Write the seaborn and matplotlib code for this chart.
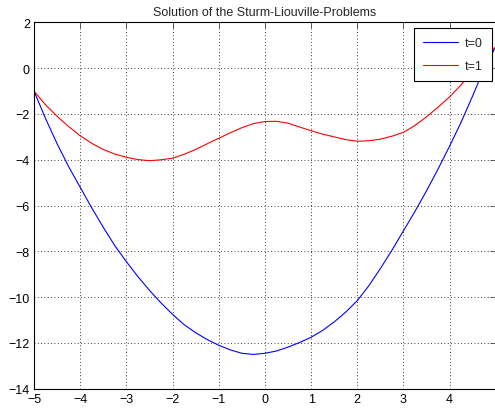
import numpy as np
import pandas as pd
import matplotlib
matplotlib.use("Agg")
import matplotlib.pyplot as plt
import seaborn as sns

# values
x_vals = [-5.0, -4.75, -4.5, -4.25, -4.0, -3.75, -3.5, -3.25, -3.0, -2.75, -2.5,
          -2.25, -2.0, -1.75, -1.5, -1.25, -1.0, -0.75, -0.5, -0.25, 0.0,
          0.25, 0.5, 0.75, 1.0, 1.25, 1.5, 1.75, 2.0, 2.25, 2.5,
          2.75, 3.0, 3.25, 3.5, 3.75, 4.0, 4.25, 4.5, 4.75, 5.0]
u_t0 = [-1.0, -2.2, -3.3, -4.3, -5.2, -6.1, -6.95, -7.75, -8.45, -9.1, -9.7,
        -10.25, -10.75, -11.2, -11.55, -11.85, -12.1, -12.3, -12.45, -12.5, -12.45,
        -12.35, -12.18, -11.98, -11.75, -11.45, -11.08, -10.65, -10.15, -9.5, -8.75,
        -7.95, -7.1, -6.25, -5.35, -4.4, -3.4, -2.35, -1.2, 0.0, 0.95]
u_t1 = [-1.0, -1.6, -2.1, -2.55, -2.95, -3.28, -3.55, -3.75, -3.89, -3.99, -4.04,
        -4.0, -3.93, -3.76, -3.55, -3.3, -3.06, -2.82, -2.6, -2.42, -2.33,
        -2.32, -2.4, -2.57, -2.73, -2.88, -3.0, -3.12, -3.19, -3.17, -3.1,
        -2.97, -2.8, -2.5, -2.12, -1.7, -1.25, -0.72, -0.15, 0.42, 0.95]
series_names = ["t=0", "t=1"]

df = pd.concat([
    pd.DataFrame({"x": x_vals, "u": u_t0, "t": series_names[0]}),
    pd.DataFrame({"x": x_vals, "u": u_t1, "t": series_names[1]}),
])

sns.set_style("white")
plt.rcParams["font.family"] = ["Liberation Sans", "DejaVu Sans"]

fig = plt.figure(figsize=(4.95, 4.14), dpi=100)
ax = fig.add_axes([0.0687, 0.0585, 0.933, 0.885])

sns.lineplot(data=df, x="x", y="u", hue="t", palette=["#0000ff", "#ff0000"],
             linewidth=0.8, ax=ax, sort=False)

ax.set_xlim(-5, 5)
ax.set_ylim(-14, 2)
ax.set_xticks(np.arange(-5, 5, 1))
ax.set_yticks(np.arange(-14, 3, 2))
ax.set_xlabel("")
ax.set_ylabel("")
ax.set_title("Solution of the Sturm-Liouville-Problems", fontsize=9, pad=5)
ax.grid(True, color="black", linestyle=(0, (1, 3)), linewidth=0.6)
ax.tick_params(direction="in", length=4, width=0.6, labelsize=9,
               top=True, right=True, colors="#444444", labelcolor="black", pad=3)
for s in ax.spines.values():
    s.set_color("black")
    s.set_linewidth(0.8)

leg = ax.legend(loc="upper right", fontsize=9, frameon=True, fancybox=False,
                edgecolor="black", framealpha=1, handlelength=2.8,
                borderpad=0.7, labelspacing=0.9, handletextpad=0.6,
                borderaxespad=0, bbox_to_anchor=(0.991, 0.984))
leg.get_frame().set_linewidth(0.8)

fig.savefig("out.png", dpi=100)
